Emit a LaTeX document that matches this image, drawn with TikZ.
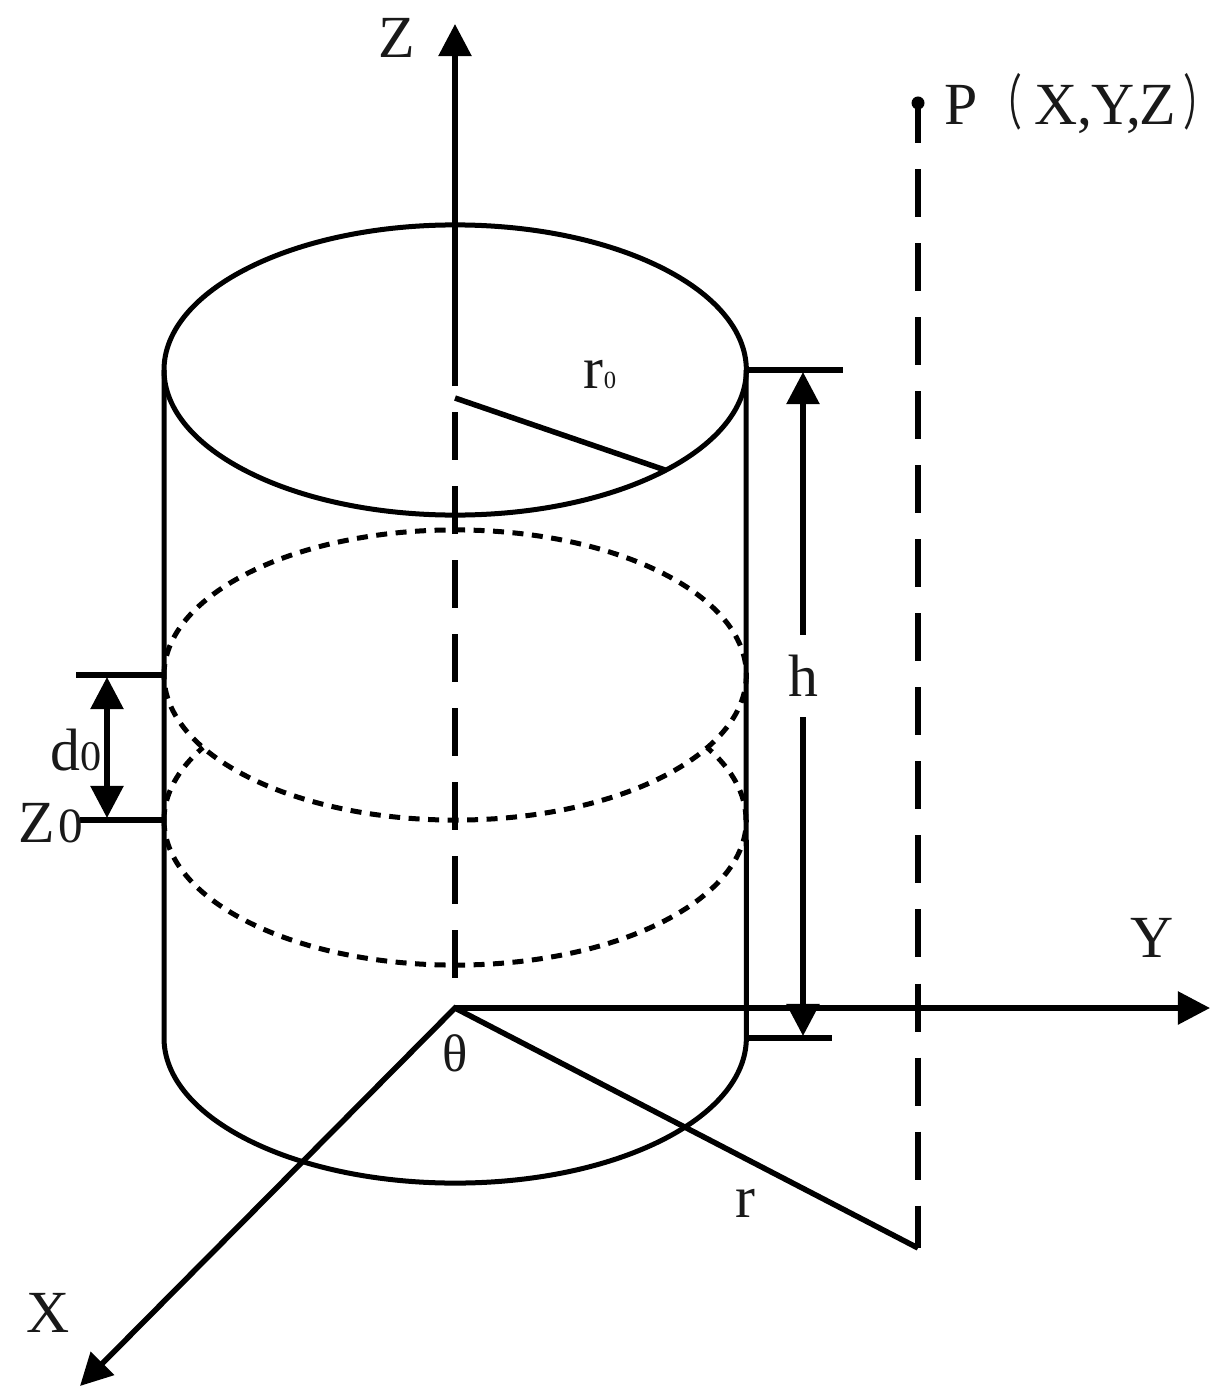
\documentclass[tikz,border=0pt]{standalone}
\usepackage{fontspec}
\setmainfont{Liberation Serif}
\newfontfamily\cjk[FakeStretch=0.6]{Noto Sans CJK SC}
\usetikzlibrary{arrows.meta}
\tikzset{
  axisline/.style={line width=0.055cm,-{Triangle[length=0.32cm,width=0.32cm]}},
  dimline/.style={line width=0.055cm,{Triangle[length=0.32cm,width=0.32cm]}-{Triangle[length=0.32cm,width=0.32cm]}},
  tickline/.style={line width=0.055cm},
  wall/.style={line width=0.05cm},
  hidden/.style={line width=0.05cm,dash pattern=on 0.11cm off 0.085cm},
  longdash/.style={line width=0.055cm,dash pattern=on 0.48cm off 0.26cm},
  biglabel/.style={inner sep=0pt,font=\fontsize{17}{17}\selectfont,text=black!90},
  smalllabel/.style={inner sep=0pt,font=\fontsize{15}{15}\selectfont,text=black!90}
}
\begin{document}
\begin{tikzpicture}[x=0.01cm,y=-0.01cm]
\useasboundingbox (0,0) rectangle (1226,1400);
\coordinate (origin) at (455,1008);
\coordinate (ztip) at (455,24);
\coordinate (zstop) at (455,386);
\coordinate (zdash) at (455,412);
\coordinate (zdashend) at (455,978);
\coordinate (ytip) at (1210,1008);
\coordinate (xtip) at (80,1386);
\coordinate (foot) at (918,1248);
\coordinate (rstart) at (455,398);
\coordinate (rend) at (665,470);
\coordinate (topl) at (164,370);
\coordinate (topr) at (746,370);
\coordinate (botl) at (164,1038);
\coordinate (botr) at (746,1038);
\coordinate (midl) at (164,675);
\coordinate (lowl) at (164,820);
\coordinate (lowr) at (746,820);
\coordinate (htop) at (843,370);
\coordinate (hbot) at (832,1038);
\coordinate (dtop) at (76,675);
\coordinate (zlow) at (80,820);
\draw[wall] (topl) arc[start angle=180,end angle=-180,x radius=2.91cm,y radius=1.45cm];
\draw[wall] (topl) -- (botl) arc[start angle=180,end angle=360,x radius=2.91cm,y radius=1.45cm] -- (topr);
\draw[hidden] (midl) arc[start angle=180,end angle=-180,x radius=2.91cm,y radius=1.45cm];
\draw[hidden] (lowl) arc[start angle=180,end angle=360,x radius=2.91cm,y radius=1.45cm];
\draw[hidden] (lowl) arc[start angle=180,end angle=150,x radius=2.91cm,y radius=1.45cm];
\draw[hidden] (lowr) arc[start angle=0,end angle=30,x radius=2.91cm,y radius=1.45cm];
\draw[axisline] (zstop) -- (ztip);
\draw[longdash] (zdash) -- (zdashend);
\draw[axisline] (origin) -- (ytip);
\draw[tickline,-{Triangle[length=0.32cm,width=0.32cm]}] (foot) -- (origin) -- (xtip);
\draw[tickline] (rstart) -- (rend);
\draw[tickline] (topr) -- (htop);
\draw[tickline] (botr) -- (hbot);
\draw[tickline] (midl) -- (dtop);
\draw[tickline] (lowl) -- (zlow);
\draw[dimline] (803,372) -- (803,1036);
\draw[dimline] (107,677) -- (107,818);
\fill (918,103) circle (0.065cm);
\draw[longdash,dash phase=0.08cm] (918,103) -- (foot);
\node[biglabel] (zlabel) at (397,38) {Z};
\node[biglabel] (ylabel) at (1152,938) {Y};
\node[biglabel] (xlabel) at (48,1313) {X};
\node[biglabel,fill=white,inner ysep=0.2cm] (hlabel) at (803,676) {h};
\node[biglabel] (rlabel) at (745,1203) {r};
\node[smalllabel] (thetalabel) at (455,1053) {θ};
\node[biglabel] (rzero) at (600,375) {r{\fontsize{7}{7}\selectfont 0}};
\node[biglabel] (dzero) at (76,750) {d{\fontsize{12}{12}\selectfont 0}};
\node[biglabel] (zzero) at (51,823) {Z\kern0.05em{\fontsize{14}{14}\selectfont 0}};
\node[biglabel,anchor=west] (plabel) at (944,104) {P\kern0.15em{\cjk （}\kern0.2em X,\kern-0.03em Y,\kern-0.03em Z\kern0.12em{\cjk ）}};
\end{tikzpicture}
\end{document}
